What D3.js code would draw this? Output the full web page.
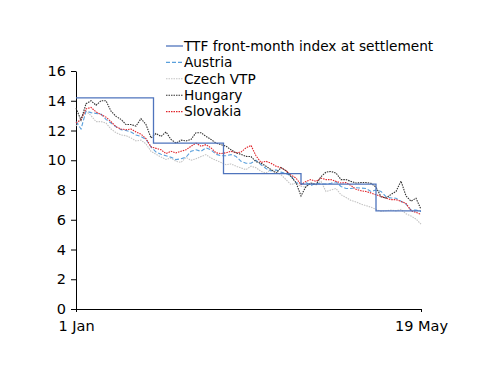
<!DOCTYPE html>
<html>
<head>
<meta charset="utf-8">
<script src="https://cdn.jsdelivr.net/npm/d3@7"></script>
<style>
  body { margin: 0; background: #fff; }
  text { font-family: "DejaVu Sans", Verdana, sans-serif; }
</style>
</head>
<body>
<svg id="chart" width="500" height="386"></svg>
<script>
// day offsets from 1 Jan (every second day up to 19 May)
const dayOffsets = [0,2,4,6,8,10,12,14,16,18,20,22,24,26,28,30,32,34,36,38,
  40,42,44,46,48,50,52,54,56,58,60,62,64,66,68,70,72,74,76,78,
  80,82,84,86,88,90,92,94,96,98,100,102,104,106,108,110,112,114,116,118,
  120,122,124,126,128,130,132,134,136,138];

const austria = [12.6,12.1,13.3,13.2,13.15,13.1,12.75,12.5,12.25,12.06,
  12.0,11.9,11.7,11.6,11.4,10.9,10.55,10.4,10.3,10.2,
  10.04,10.1,10.2,10.6,10.7,10.6,10.83,10.7,10.4,10.3,
  10.3,10.38,10.26,9.93,9.8,9.8,10.0,9.7,9.45,9.28,
  9.35,9.2,9.1,8.95,8.5,8.4,8.5,8.3,8.45,8.4,
  8.4,8.45,8.55,8.24,8.1,8.1,8.15,8.13,8.1,7.9,
  8.0,7.9,7.55,7.46,7.45,7.25,7.05,6.65,6.65,6.55];

const czech = [12.3,12.8,13.3,13.0,12.6,12.6,12.5,12.1,11.85,11.7,
  11.65,11.5,11.3,11.35,11.1,10.6,10.4,10.22,10.05,10.15,
  9.93,9.85,10.2,10.0,10.1,10.25,10.38,10.15,10.0,9.85,
  9.7,9.75,9.6,9.48,9.37,9.6,9.5,9.25,9.14,9.37,
  9.25,9.03,8.7,8.36,8.47,8.24,8.2,8.47,8.4,8.58,
  7.9,8.0,8.1,7.68,7.5,7.3,7.2,7.05,6.95,6.85,
  6.7,6.56,6.6,6.65,6.6,6.7,6.4,6.25,6.05,5.7];

const hungary = [13.5,12.7,13.8,14.0,13.7,14.0,14.0,13.3,12.95,12.75,
  12.4,12.4,12.3,12.8,12.4,11.5,11.8,11.6,11.9,11.4,
  11.15,11.35,11.3,11.4,11.85,11.85,11.6,11.4,11.15,11.05,
  10.95,10.7,10.5,10.4,10.26,10.25,9.9,9.8,9.6,9.37,
  9.14,9.5,9.3,8.9,8.5,7.6,8.24,8.47,8.36,8.9,
  9.2,9.25,9.14,8.7,8.7,8.58,8.47,8.5,8.5,8.45,
  8.2,7.55,7.46,7.7,7.9,8.6,7.6,7.25,7.45,6.7];

const slovakia = [12.5,12.75,13.45,13.55,13.25,13.07,12.9,12.6,12.25,12.1,
  12.05,12.1,11.9,11.75,11.45,10.9,10.8,10.7,10.45,10.6,
  10.5,10.6,10.7,10.94,11.15,10.94,11.05,10.83,10.5,10.45,
  10.5,10.6,10.5,10.55,10.83,11.0,10.3,9.85,9.93,9.8,
  9.6,9.5,9.3,9.0,8.8,8.36,8.58,8.7,8.58,8.8,
  8.7,8.7,8.58,8.47,8.5,8.3,8.05,7.95,7.9,7.8,
  7.68,7.57,7.46,7.35,7.35,7.23,7.1,6.6,6.5,6.35];

// TTF monthly settlement steps
const ttfDays = [0, 31, 59, 90, 120, 138];
const ttfValues = [14.2, 11.15, 9.1, 8.4, 6.6, 6.6];

const yTicks = [0, 2, 4, 6, 8, 10, 12, 14, 16];
const xTickDays = [0, 138];
const xTickLabels = ["1 Jan", "19 May"];

const seriesNames = ["TTF front-month index at settlement", "Austria", "Czech VTP", "Hungary", "Slovakia"];

const STYLES = {
  "TTF front-month index at settlement": { color: "#4f74bd", dash: null, width: 1.3 },
  "Austria": { color: "#5aa0dc", dash: "4,2", width: 1.1 },
  "Czech VTP": { color: "#c4c4c4", dash: "1.5,1", width: 1.1 },
  "Hungary": { color: "#333333", dash: "1.5,1", width: 1.1 },
  "Slovakia": { color: "#e0242a", dash: "1.5,1", width: 1.1 }
};

const plotLeft = 76, plotRight = 421, plotTop = 71, plotBottom = 309;
const start = new Date(2015, 0, 1);
const dayToDate = d => d3.timeDay.offset(start, d);

const svg = d3.select("#chart");

let x = d3.scaleTime()
  .domain([start, dayToDate(138)])
  .range([plotLeft, plotRight]);

let y = d3.scaleLinear()
  .domain([0, 16])
  .range([plotBottom, plotTop]);

// axes
svg.append("g")
  .attr("class", "y-axis")
  .attr("transform", `translate(${plotLeft},0)`)
  .call(d3.axisLeft(y).tickValues(yTicks).tickSize(5).tickPadding(5).tickSizeOuter(0))
  .call(g => g.selectAll("text").style("font-size", "14.5px").attr("fill", "#000"))
  .call(g => g.selectAll("line,path").attr("stroke", "#000"));

svg.append("g")
  .attr("class", "x-axis")
  .attr("transform", `translate(0,${plotBottom})`)
  .call(d3.axisBottom(x)
    .tickValues(xTickDays.map(dayToDate))
    .tickFormat((d, i) => xTickLabels[i])
    .tickSize(3).tickPadding(9).tickSizeOuter(0))
  .call(g => g.selectAll("text").style("font-size", "14.5px").attr("fill", "#000"))
  .call(g => g.selectAll("line,path").attr("stroke", "#000"));

// lines
function drawLine(days, values, name, curve) {
  const st = STYLES[name];
  const line = d3.line()
    .x((d, i) => x(dayToDate(days[i])))
    .y(d => y(d))
    .curve(curve || d3.curveLinear);
  svg.append("path")
    .datum(values)
    .attr("fill", "none")
    .attr("stroke", st.color)
    .attr("stroke-width", st.width)
    .attr("stroke-dasharray", st.dash)
    .attr("d", line);
}

drawLine(dayOffsets, czech, "Czech VTP");
drawLine(dayOffsets, austria, "Austria");
drawLine(dayOffsets, slovakia, "Slovakia");
drawLine(dayOffsets, hungary, "Hungary");
drawLine(ttfDays, ttfValues, "TTF front-month index at settlement", d3.curveStepAfter);

// legend
const legend = svg.append("g")
  .attr("class", "legend")
  .attr("transform", "translate(166,46)");

const item = legend.selectAll("g")
  .data(seriesNames)
  .enter()
  .append("g")
  .attr("transform", (d, i) => `translate(0,${i * 16.4})`);

item.append("line")
  .attr("x1", 0).attr("x2", 17)
  .attr("stroke", d => STYLES[d].color)
  .attr("stroke-width", d => STYLES[d].width)
  .attr("stroke-dasharray", d => STYLES[d].dash);

item.append("text")
  .attr("x", 18)
  .attr("dy", "0.35em")
  .style("font-size", "13.7px")
  .text(d => d);
</script>
</body>
</html>
